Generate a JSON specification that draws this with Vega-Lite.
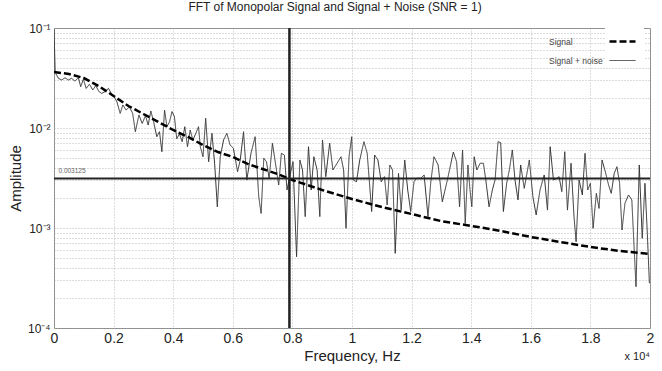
{
  "$schema": "https://vega.github.io/schema/vega-lite/v6.json",
  "autosize": {"type": "none"},
  "padding": {"left": 54, "top": 28, "right": 12, "bottom": 43},
  "width": 596,
  "height": 300,
  "background": "white",
  "config": {
    "font": "Liberation Sans",
    "view": {"stroke": "#8a8a8a", "strokeWidth": 1},
    "axis": {"domain": false, "ticks": false, "grid": true, "gridColor": "#a8a8a8", "gridDash": [1, 2], "gridWidth": 0.8, "labelColor": "#222", "titleColor": "#222", "titleFontWeight": "normal"}
  },
  "title": {"text": "FFT of Monopolar Signal and Signal + Noise (SNR = 1)", "fontSize": 12, "fontWeight": "normal", "color": "#222", "anchor": "middle", "dx": -17, "offset": 8},
  "datasets": {
    "signal": [
      {"f": 0, "a": 0.0363, "series": "Signal"},
      {"f": 0.05, "a": 0.0347, "series": "Signal"},
      {"f": 0.1, "a": 0.0316, "series": "Signal"},
      {"f": 0.15, "a": 0.0263, "series": "Signal"},
      {"f": 0.2, "a": 0.0209, "series": "Signal"},
      {"f": 0.25, "a": 0.0166, "series": "Signal"},
      {"f": 0.3, "a": 0.0138, "series": "Signal"},
      {"f": 0.35, "a": 0.0115, "series": "Signal"},
      {"f": 0.4, "a": 0.00955, "series": "Signal"},
      {"f": 0.45, "a": 0.00813, "series": "Signal"},
      {"f": 0.5, "a": 0.00676, "series": "Signal"},
      {"f": 0.55, "a": 0.00575, "series": "Signal"},
      {"f": 0.6, "a": 0.00513, "series": "Signal"},
      {"f": 0.65, "a": 0.00437, "series": "Signal"},
      {"f": 0.7, "a": 0.00389, "series": "Signal"},
      {"f": 0.75, "a": 0.00347, "series": "Signal"},
      {"f": 0.8, "a": 0.00302, "series": "Signal"},
      {"f": 0.9, "a": 0.0024, "series": "Signal"},
      {"f": 1.0, "a": 0.00195, "series": "Signal"},
      {"f": 1.1, "a": 0.00162, "series": "Signal"},
      {"f": 1.2, "a": 0.00138, "series": "Signal"},
      {"f": 1.3, "a": 0.00117, "series": "Signal"},
      {"f": 1.4, "a": 0.00105, "series": "Signal"},
      {"f": 1.5, "a": 0.000933, "series": "Signal"},
      {"f": 1.6, "a": 0.000813, "series": "Signal"},
      {"f": 1.7, "a": 0.000724, "series": "Signal"},
      {"f": 1.8, "a": 0.000646, "series": "Signal"},
      {"f": 1.9, "a": 0.000589, "series": "Signal"},
      {"f": 2.0, "a": 0.00055, "series": "Signal"}
    ],
    "noise": [
      {"f": 0, "a": 0.098, "series": "Signal + noise"},
      {"f": 0.004, "a": 0.036, "series": "Signal + noise"},
      {"f": 0.0146, "a": 0.0314, "series": "Signal + noise"},
      {"f": 0.0258, "a": 0.0302, "series": "Signal + noise"},
      {"f": 0.037, "a": 0.0318, "series": "Signal + noise"},
      {"f": 0.048, "a": 0.0302, "series": "Signal + noise"},
      {"f": 0.059, "a": 0.0314, "series": "Signal + noise"},
      {"f": 0.07, "a": 0.0295, "series": "Signal + noise"},
      {"f": 0.0818, "a": 0.0318, "series": "Signal + noise"},
      {"f": 0.0896, "a": 0.0259, "series": "Signal + noise"},
      {"f": 0.0986, "a": 0.0307, "series": "Signal + noise"},
      {"f": 0.108, "a": 0.0249, "series": "Signal + noise"},
      {"f": 0.119, "a": 0.0274, "series": "Signal + noise"},
      {"f": 0.13, "a": 0.024, "series": "Signal + noise"},
      {"f": 0.14, "a": 0.0265, "series": "Signal + noise"},
      {"f": 0.151, "a": 0.0231, "series": "Signal + noise"},
      {"f": 0.16, "a": 0.0222, "series": "Signal + noise"},
      {"f": 0.171, "a": 0.0231, "series": "Signal + noise"},
      {"f": 0.183, "a": 0.0249, "series": "Signal + noise"},
      {"f": 0.192, "a": 0.0222, "series": "Signal + noise"},
      {"f": 0.202, "a": 0.0206, "series": "Signal + noise"},
      {"f": 0.211, "a": 0.0183, "series": "Signal + noise"},
      {"f": 0.222, "a": 0.014, "series": "Signal + noise"},
      {"f": 0.231, "a": 0.017, "series": "Signal + noise"},
      {"f": 0.242, "a": 0.0151, "series": "Signal + noise"},
      {"f": 0.253, "a": 0.0163, "series": "Signal + noise"},
      {"f": 0.264, "a": 0.014, "series": "Signal + noise"},
      {"f": 0.273, "a": 0.00918, "series": "Signal + noise"},
      {"f": 0.285, "a": 0.0135, "series": "Signal + noise"},
      {"f": 0.296, "a": 0.0111, "series": "Signal + noise"},
      {"f": 0.307, "a": 0.0133, "series": "Signal + noise"},
      {"f": 0.316, "a": 0.0107, "series": "Signal + noise"},
      {"f": 0.325, "a": 0.0148, "series": "Signal + noise"},
      {"f": 0.334, "a": 0.0116, "series": "Signal + noise"},
      {"f": 0.345, "a": 0.00818, "series": "Signal + noise"},
      {"f": 0.354, "a": 0.00918, "series": "Signal + noise"},
      {"f": 0.362, "a": 0.00579, "series": "Signal + noise"},
      {"f": 0.371, "a": 0.0151, "series": "Signal + noise"},
      {"f": 0.379, "a": 0.0103, "series": "Signal + noise"},
      {"f": 0.388, "a": 0.0116, "series": "Signal + noise"},
      {"f": 0.396, "a": 0.0146, "series": "Signal + noise"},
      {"f": 0.404, "a": 0.013, "series": "Signal + noise"},
      {"f": 0.412, "a": 0.00782, "series": "Signal + noise"},
      {"f": 0.421, "a": 0.00877, "series": "Signal + noise"},
      {"f": 0.43, "a": 0.0073, "series": "Signal + noise"},
      {"f": 0.439, "a": 0.0103, "series": "Signal + noise"},
      {"f": 0.448, "a": 0.0065, "series": "Signal + noise"},
      {"f": 0.457, "a": 0.00955, "series": "Signal + noise"},
      {"f": 0.466, "a": 0.00759, "series": "Signal + noise"},
      {"f": 0.476, "a": 0.00885, "series": "Signal + noise"},
      {"f": 0.485, "a": 0.0103, "series": "Signal + noise"},
      {"f": 0.491, "a": 0.0065, "series": "Signal + noise"},
      {"f": 0.5, "a": 0.00516, "series": "Signal + noise"},
      {"f": 0.509, "a": 0.0125, "series": "Signal + noise"},
      {"f": 0.519, "a": 0.0046, "series": "Signal + noise"},
      {"f": 0.53, "a": 0.00885, "series": "Signal + noise"},
      {"f": 0.539, "a": 0.00444, "series": "Signal + noise"},
      {"f": 0.548, "a": 0.00163, "series": "Signal + noise"},
      {"f": 0.558, "a": 0.00516, "series": "Signal + noise"},
      {"f": 0.569, "a": 0.00759, "series": "Signal + noise"},
      {"f": 0.58, "a": 0.00885, "series": "Signal + noise"},
      {"f": 0.591, "a": 0.00676, "series": "Signal + noise"},
      {"f": 0.602, "a": 0.00627, "series": "Signal + noise"},
      {"f": 0.616, "a": 0.00366, "series": "Signal + noise"},
      {"f": 0.625, "a": 0.00479, "series": "Signal + noise"},
      {"f": 0.636, "a": 0.00918, "series": "Signal + noise"},
      {"f": 0.647, "a": 0.00302, "series": "Signal + noise"},
      {"f": 0.661, "a": 0.00558, "series": "Signal + noise"},
      {"f": 0.675, "a": 0.00818, "series": "Signal + noise"},
      {"f": 0.687, "a": 0.00206, "series": "Signal + noise"},
      {"f": 0.695, "a": 0.0014, "series": "Signal + noise"},
      {"f": 0.704, "a": 0.00498, "series": "Signal + noise"},
      {"f": 0.713, "a": 0.0046, "series": "Signal + noise"},
      {"f": 0.722, "a": 0.00314, "series": "Signal + noise"},
      {"f": 0.733, "a": 0.00703, "series": "Signal + noise"},
      {"f": 0.744, "a": 0.00427, "series": "Signal + noise"},
      {"f": 0.754, "a": 0.00269, "series": "Signal + noise"},
      {"f": 0.763, "a": 0.00558, "series": "Signal + noise"},
      {"f": 0.773, "a": 0.00537, "series": "Signal + noise"},
      {"f": 0.782, "a": 0.0024, "series": "Signal + noise"},
      {"f": 0.791, "a": 0.00326, "series": "Signal + noise"},
      {"f": 0.802, "a": 0.0046, "series": "Signal + noise"},
      {"f": 0.814, "a": 0.000516, "series": "Signal + noise"},
      {"f": 0.825, "a": 0.00479, "series": "Signal + noise"},
      {"f": 0.834, "a": 0.0038, "series": "Signal + noise"},
      {"f": 0.843, "a": 0.0013, "series": "Signal + noise"},
      {"f": 0.854, "a": 0.0065, "series": "Signal + noise"},
      {"f": 0.863, "a": 0.0024, "series": "Signal + noise"},
      {"f": 0.872, "a": 0.00516, "series": "Signal + noise"},
      {"f": 0.883, "a": 0.0038, "series": "Signal + noise"},
      {"f": 0.892, "a": 0.0013, "series": "Signal + noise"},
      {"f": 0.901, "a": 0.00759, "series": "Signal + noise"},
      {"f": 0.912, "a": 0.00326, "series": "Signal + noise"},
      {"f": 0.925, "a": 0.00703, "series": "Signal + noise"},
      {"f": 0.936, "a": 0.0038, "series": "Signal + noise"},
      {"f": 0.95, "a": 0.00444, "series": "Signal + noise"},
      {"f": 0.963, "a": 0.00516, "series": "Signal + noise"},
      {"f": 0.972, "a": 0.0038, "series": "Signal + noise"},
      {"f": 0.98, "a": 0.000993, "series": "Signal + noise"},
      {"f": 0.99, "a": 0.00516, "series": "Signal + noise"},
      {"f": 0.999, "a": 0.00818, "series": "Signal + noise"},
      {"f": 1.004, "a": 0.00302, "series": "Signal + noise"},
      {"f": 1.015, "a": 0.0029, "series": "Signal + noise"},
      {"f": 1.026, "a": 0.00479, "series": "Signal + noise"},
      {"f": 1.04, "a": 0.0073, "series": "Signal + noise"},
      {"f": 1.051, "a": 0.00558, "series": "Signal + noise"},
      {"f": 1.066, "a": 0.00146, "series": "Signal + noise"},
      {"f": 1.076, "a": 0.00537, "series": "Signal + noise"},
      {"f": 1.087, "a": 0.00479, "series": "Signal + noise"},
      {"f": 1.098, "a": 0.0029, "series": "Signal + noise"},
      {"f": 1.109, "a": 0.00326, "series": "Signal + noise"},
      {"f": 1.118, "a": 0.0017, "series": "Signal + noise"},
      {"f": 1.127, "a": 0.00427, "series": "Signal + noise"},
      {"f": 1.136, "a": 0.0038, "series": "Signal + noise"},
      {"f": 1.145, "a": 0.000558, "series": "Signal + noise"},
      {"f": 1.156, "a": 0.00352, "series": "Signal + noise"},
      {"f": 1.165, "a": 0.00151, "series": "Signal + noise"},
      {"f": 1.177, "a": 0.00479, "series": "Signal + noise"},
      {"f": 1.187, "a": 0.0024, "series": "Signal + noise"},
      {"f": 1.197, "a": 0.00146, "series": "Signal + noise"},
      {"f": 1.208, "a": 0.0029, "series": "Signal + noise"},
      {"f": 1.217, "a": 0.00314, "series": "Signal + noise"},
      {"f": 1.23, "a": 0.00314, "series": "Signal + noise"},
      {"f": 1.242, "a": 0.00339, "series": "Signal + noise"},
      {"f": 1.255, "a": 0.0013, "series": "Signal + noise"},
      {"f": 1.264, "a": 0.0028, "series": "Signal + noise"},
      {"f": 1.275, "a": 0.00516, "series": "Signal + noise"},
      {"f": 1.289, "a": 0.00427, "series": "Signal + noise"},
      {"f": 1.303, "a": 0.00183, "series": "Signal + noise"},
      {"f": 1.32, "a": 0.00302, "series": "Signal + noise"},
      {"f": 1.34, "a": 0.00575, "series": "Signal + noise"},
      {"f": 1.351, "a": 0.0046, "series": "Signal + noise"},
      {"f": 1.361, "a": 0.00163, "series": "Signal + noise"},
      {"f": 1.371, "a": 0.00603, "series": "Signal + noise"},
      {"f": 1.38, "a": 0.00111, "series": "Signal + noise"},
      {"f": 1.389, "a": 0.00427, "series": "Signal + noise"},
      {"f": 1.396, "a": 0.0024, "series": "Signal + noise"},
      {"f": 1.402, "a": 0.00163, "series": "Signal + noise"},
      {"f": 1.41, "a": 0.00516, "series": "Signal + noise"},
      {"f": 1.419, "a": 0.0038, "series": "Signal + noise"},
      {"f": 1.43, "a": 0.00444, "series": "Signal + noise"},
      {"f": 1.441, "a": 0.00444, "series": "Signal + noise"},
      {"f": 1.449, "a": 0.00302, "series": "Signal + noise"},
      {"f": 1.46, "a": 0.00163, "series": "Signal + noise"},
      {"f": 1.471, "a": 0.0024, "series": "Signal + noise"},
      {"f": 1.48, "a": 0.00302, "series": "Signal + noise"},
      {"f": 1.49, "a": 0.0073, "series": "Signal + noise"},
      {"f": 1.499, "a": 0.00713, "series": "Signal + noise"},
      {"f": 1.508, "a": 0.00146, "series": "Signal + noise"},
      {"f": 1.519, "a": 0.0028, "series": "Signal + noise"},
      {"f": 1.528, "a": 0.0038, "series": "Signal + noise"},
      {"f": 1.538, "a": 0.00603, "series": "Signal + noise"},
      {"f": 1.547, "a": 0.00302, "series": "Signal + noise"},
      {"f": 1.557, "a": 0.00191, "series": "Signal + noise"},
      {"f": 1.566, "a": 0.00427, "series": "Signal + noise"},
      {"f": 1.578, "a": 0.00249, "series": "Signal + noise"},
      {"f": 1.595, "a": 0.00479, "series": "Signal + noise"},
      {"f": 1.607, "a": 0.00206, "series": "Signal + noise"},
      {"f": 1.618, "a": 0.00135, "series": "Signal + noise"},
      {"f": 1.631, "a": 0.0024, "series": "Signal + noise"},
      {"f": 1.645, "a": 0.00339, "series": "Signal + noise"},
      {"f": 1.656, "a": 0.00151, "series": "Signal + noise"},
      {"f": 1.665, "a": 0.0065, "series": "Signal + noise"},
      {"f": 1.676, "a": 0.00302, "series": "Signal + noise"},
      {"f": 1.687, "a": 0.00314, "series": "Signal + noise"},
      {"f": 1.695, "a": 0.00326, "series": "Signal + noise"},
      {"f": 1.704, "a": 0.00231, "series": "Signal + noise"},
      {"f": 1.714, "a": 0.00579, "series": "Signal + noise"},
      {"f": 1.723, "a": 0.00151, "series": "Signal + noise"},
      {"f": 1.735, "a": 0.00444, "series": "Signal + noise"},
      {"f": 1.745, "a": 0.0013, "series": "Signal + noise"},
      {"f": 1.752, "a": 0.000729, "series": "Signal + noise"},
      {"f": 1.762, "a": 0.00302, "series": "Signal + noise"},
      {"f": 1.773, "a": 0.00214, "series": "Signal + noise"},
      {"f": 1.782, "a": 0.00558, "series": "Signal + noise"},
      {"f": 1.791, "a": 0.0024, "series": "Signal + noise"},
      {"f": 1.8, "a": 0.0028, "series": "Signal + noise"},
      {"f": 1.809, "a": 0.000993, "series": "Signal + noise"},
      {"f": 1.82, "a": 0.00222, "series": "Signal + noise"},
      {"f": 1.829, "a": 0.00157, "series": "Signal + noise"},
      {"f": 1.839, "a": 0.00479, "series": "Signal + noise"},
      {"f": 1.85, "a": 0.00366, "series": "Signal + noise"},
      {"f": 1.861, "a": 0.00269, "series": "Signal + noise"},
      {"f": 1.87, "a": 0.00222, "series": "Signal + noise"},
      {"f": 1.88, "a": 0.00352, "series": "Signal + noise"},
      {"f": 1.889, "a": 0.0041, "series": "Signal + noise"},
      {"f": 1.898, "a": 0.0028, "series": "Signal + noise"},
      {"f": 1.906, "a": 0.000955, "series": "Signal + noise"},
      {"f": 1.916, "a": 0.00177, "series": "Signal + noise"},
      {"f": 1.928, "a": 0.00214, "series": "Signal + noise"},
      {"f": 1.939, "a": 0.00191, "series": "Signal + noise"},
      {"f": 1.953, "a": 0.000259, "series": "Signal + noise"},
      {"f": 1.964, "a": 0.00427, "series": "Signal + noise"},
      {"f": 1.974, "a": 0.000789, "series": "Signal + noise"},
      {"f": 1.983, "a": 0.0028, "series": "Signal + noise"},
      {"f": 1.991, "a": 0.000885, "series": "Signal + noise"},
      {"f": 1.998, "a": 0.00028, "series": "Signal + noise"}
    ]
  },
  "encoding": {
    "x": {"field": "f", "type": "quantitative", "scale": {"domain": [0, 2], "nice": false, "zero": false},
      "axis": {"title": "Frequency, Hz", "titleFontSize": 15, "titlePadding": 3, "labelFontSize": 14, "labelPadding": 3, "values": [0, 0.2, 0.4, 0.6, 0.8, 1, 1.2, 1.4, 1.6, 1.8, 2], "format": "~g", "labelFlush": false}},
    "y": {"field": "a", "type": "quantitative", "scale": {"type": "log", "domain": [0.0001, 0.1], "nice": false},
      "axis": {"title": "Amplitude", "titleFontSize": 15, "titlePadding": 4, "labelFontSize": 12, "labelPadding": 4,
        "values": [0.0001, 0.0002, 0.0003, 0.0004, 0.0005, 0.0006, 0.0007, 0.0008, 0.0009, 0.001, 0.002, 0.003, 0.004, 0.005, 0.006, 0.007, 0.008, 0.009, 0.01, 0.02, 0.03, 0.04, 0.05, 0.06, 0.07, 0.08, 0.09, 0.1],
        "labelExpr": "datum.value == 0.1 ? '10⁻¹' : datum.value == 0.01 ? '10⁻²' : datum.value == 0.001 ? '10⁻³' : datum.value == 0.0001 ? '10⁻⁴' : ''", "labelFlush": false}},
    "color": {"field": "series", "type": "nominal", "scale": {"domain": ["Signal", "Signal + noise"], "range": ["#000000", "#333333"]},
      "legend": {"title": null, "orient": "none", "legendX": 551, "legendY": -4, "fillColor": "white", "padding": 3, "labelFontSize": 8.5, "labelColor": "#444", "symbolType": "stroke", "symbolSize": 676, "labelAlign": "left", "labelOffset": -88, "rowPadding": -6}},
    "strokeDash": {"field": "series", "type": "nominal", "scale": {"domain": ["Signal", "Signal + noise"], "range": [[7, 3], [1, 0]]}},
    "strokeWidth": {"field": "series", "type": "nominal", "scale": {"domain": ["Signal", "Signal + noise"], "range": [2.5, 1]}}
  },
  "layer": [
    {"data": {"name": "noise"}, "mark": {"type": "line", "clip": true}},
    {"data": {"name": "signal"}, "mark": {"type": "line", "clip": true}},
    {"data": {"values": [{"v": 0.003125}]}, "mark": {"type": "rule", "color": "#222", "strokeWidth": 2}, "encoding": {"y": {"field": "v", "type": "quantitative"}, "x": null, "color": null, "strokeDash": null, "strokeWidth": null}},
    {"data": {"values": [{"v": 0.79}]}, "mark": {"type": "rule", "color": "#222", "strokeWidth": 2.5}, "encoding": {"x": {"field": "v", "type": "quantitative"}, "y": null, "color": null, "strokeDash": null, "strokeWidth": null}},
    {"data": {"values": [{"fx": 0.015, "ay": 0.003125, "label": "0.003125"}]}, "mark": {"type": "text", "align": "left", "baseline": "bottom", "dy": -5, "fontSize": 6.5, "color": "#666"}, "encoding": {"x": {"field": "fx", "type": "quantitative"}, "y": {"field": "ay", "type": "quantitative"}, "text": {"field": "label"}, "color": null, "strokeDash": null, "strokeWidth": null}},
    {"data": {"values": [{"fx": 2, "ay": 0.0001, "label": "x 10⁴"}]}, "mark": {"type": "text", "align": "right", "baseline": "top", "dy": 23, "fontSize": 11, "color": "#222"}, "encoding": {"x": {"field": "fx", "type": "quantitative"}, "y": {"field": "ay", "type": "quantitative"}, "text": {"field": "label"}, "color": null, "strokeDash": null, "strokeWidth": null}}
  ]
}
